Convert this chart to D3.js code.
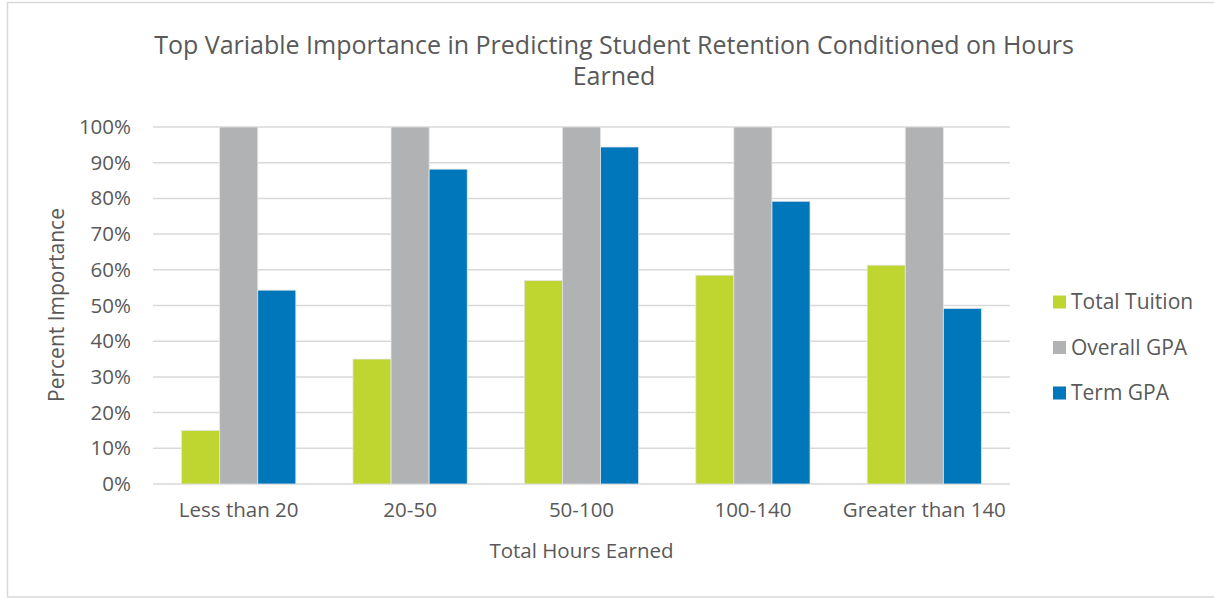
<!DOCTYPE html>
<html lang="en">
<head>
    <meta charset="UTF-8">
    <title>Top Variable Importance</title>
    <script src="https://d3js.org/d3.v7.min.js"></script>
    <style>
        body { margin: 0; background: #fff; }
        svg text { font-family: "Open Sans", sans-serif; fill: #595959; }
    </style>
</head>
<body>
<svg id="chart" width="1214" height="598"></svg>
<script>
    // chart data
    const categories = ["Less than 20", "20-50", "50-100", "100-140", "Greater than 140"];
    const seriesNames = ["Total Tuition", "Overall GPA", "Term GPA"];
    const totalTuition = [15, 35, 57, 58.5, 61.3];
    const overallGPA = [100, 100, 100, 100, 100];
    const termGPA = [54.3, 88.2, 94.4, 79.2, 49.2];
    const yTicks = [0, 10, 20, 30, 40, 50, 60, 70, 80, 90, 100];
    const colors = ["#BFD630", "#B1B2B4", "#0077BA"];

    const series = [totalTuition, overallGPA, termGPA];

    const svg = d3.select("#chart");

    // outer chart border
    svg.append("rect")
        .attr("x", 7.5).attr("y", 2.5)
        .attr("width", 1214).attr("height", 594.5)
        .attr("fill", "none")
        .attr("stroke", "#d9d9d9")
        .attr("stroke-width", 1.5);

    const plot = { left: 153, right: 1010, top: 127, bottom: 484 };

    const x = d3.scaleBand()
        .domain(categories)
        .range([plot.left, plot.right])
        .paddingInner(0)
        .paddingOuter(0);

    // Excel gap width 150%: bar = band / 4.5
    const barW = x.bandwidth() / 4.5;
    const xs = d3.scaleBand()
        .domain(seriesNames)
        .range([0, barW * 3]);

    const y = d3.scaleLinear().domain([0, 100]).range([plot.bottom, plot.top]);

    // gridlines
    svg.append("g")
        .selectAll("line")
        .data(yTicks)
        .enter().append("line")
        .attr("x1", plot.left).attr("x2", plot.right)
        .attr("y1", d => y(d)).attr("y2", d => y(d))
        .attr("stroke", "#d9d9d9")
        .attr("stroke-width", 1.5);

    // y tick labels
    const yAxis = d3.axisLeft(y).tickValues(yTicks).tickFormat(d => d + "%").tickSize(0).tickPadding(0);
    const gy = svg.append("g").attr("transform", `translate(${plot.left - 22},0)`).call(yAxis);
    gy.select(".domain").remove();
    gy.selectAll("text").style("font-size", "20.5px").attr("fill", "#595959");

    // x tick labels
    const xAxis = d3.axisBottom(x).tickSize(0).tickPadding(0);
    const gx = svg.append("g").attr("transform", `translate(0,${plot.bottom + 18})`).call(xAxis);
    gx.select(".domain").remove();
    gx.selectAll("text").style("font-size", "20.5px").attr("fill", "#595959");

    // bars
    const groups = svg.append("g")
        .selectAll("g")
        .data(categories)
        .enter().append("g")
        .attr("transform", c => `translate(${x(c) + (x.bandwidth() - barW * 3) / 2},0)`);

    groups.selectAll("rect")
        .data((c, i) => seriesNames.map((s, j) => ({ s: s, v: series[j][i], j: j })))
        .enter().append("rect")
        .attr("x", d => xs(d.s))
        .attr("y", d => y(d.v))
        .attr("width", xs.bandwidth())
        .attr("height", d => y(0) - y(d.v))
        .attr("fill", d => colors[d.j])
        .attr("stroke", "#e4e4e4")
        .attr("stroke-width", 0.8);

    // title
    svg.append("text")
        .attr("x", 614).attr("y", 54)
        .attr("text-anchor", "middle")
        .style("font-size", "25px")
        .text("Top Variable Importance in Predicting Student Retention Conditioned on Hours");
    svg.append("text")
        .attr("x", 614).attr("y", 85)
        .attr("text-anchor", "middle")
        .style("font-size", "25px")
        .text("Earned");

    // axis titles
    svg.append("text")
        .attr("x", (plot.left + plot.right) / 2).attr("y", 558)
        .attr("text-anchor", "middle")
        .style("font-size", "20.5px")
        .text("Total Hours Earned");

    svg.append("text")
        .attr("transform", "translate(64,305) rotate(-90)")
        .attr("text-anchor", "middle")
        .style("font-size", "21px")
        .text("Percent Importance");

    // legend
    const legend = svg.append("g")
        .selectAll("g")
        .data(seriesNames)
        .enter().append("g")
        .attr("transform", (d, i) => `translate(1053,${302 + i * 45.5})`);

    legend.append("rect")
        .attr("x", 0).attr("y", -6.5)
        .attr("width", 13).attr("height", 13)
        .attr("fill", (d, i) => colors[i]);

    legend.append("text")
        .attr("x", 18).attr("y", 0)
        .attr("dy", "0.35em")
        .style("font-size", "21px")
        .text(d => d);
</script>
</body>
</html>
